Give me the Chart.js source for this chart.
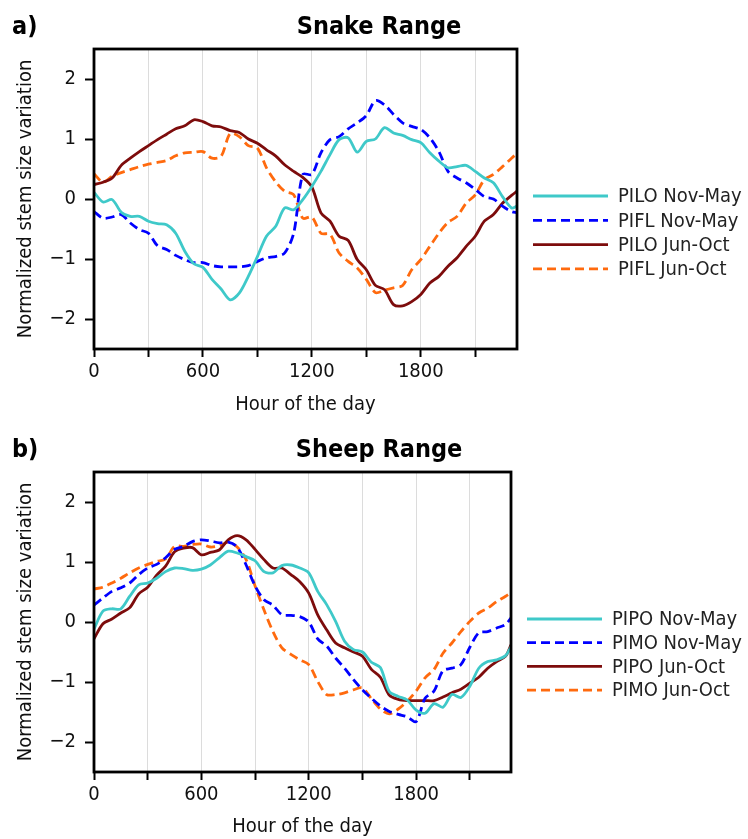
<!DOCTYPE html>
<html><head><meta charset="utf-8">
<script src="https://cdn.jsdelivr.net/npm/chart.js@4.4.0/dist/chart.umd.min.js"></script>
<style>
html,body{margin:0;padding:0;background:#fff;}
#wrap{position:relative;width:748px;height:839px;overflow:hidden;}
canvas{position:absolute;left:0;}
#c1{top:0;}
#c2{top:420px;}
</style></head><body>
<div id="wrap"><canvas id="c1" width="748" height="420"></canvas><canvas id="c2" width="748" height="419"></canvas></div>
<script>
// ---- data ----
const hours = [0,50,100,150,200,250,300,350,400,450,500,550,600,650,700,750,800,850,900,950,1000,1050,1100,1150,1200,1250,1300,1350,1400,1450,1500,1550,1600,1650,1700,1750,1800,1850,1900,1950,2000,2050,2100,2150,2200,2250,2300,2330];

const snakePILO_NovMay = [0.11,-0.05,-0.01,-0.22,-0.29,-0.29,-0.37,-0.41,-0.43,-0.57,
  -0.87,-1.08,-1.14,-1.34,-1.5,-1.68,-1.57,-1.29,-0.96,-0.62,
  -0.46,-0.15,-0.18,-0.01,0.21,0.46,0.74,0.99,1.02,0.78,
  0.96,1.0,1.19,1.1,1.06,0.99,0.94,0.77,0.63,0.52,
  0.54,0.56,0.46,0.35,0.27,0.04,-0.15,-0.12];
const snakePIFL_NovMay = [-0.21,-0.32,-0.3,-0.26,-0.4,-0.51,-0.57,-0.78,-0.84,-0.94,
  -1.01,-1.06,-1.06,-1.11,-1.13,-1.13,-1.13,-1.11,-1.04,-0.98,
  -0.96,-0.9,-0.57,0.41,0.41,0.77,0.99,1.04,1.17,1.27,
  1.39,1.64,1.57,1.41,1.27,1.21,1.16,1.02,0.79,0.46,
  0.35,0.27,0.16,0.04,0.0,-0.12,-0.21,-0.23];
const snakePILO_JunOct = [0.24,0.28,0.35,0.56,0.68,0.79,0.89,0.99,1.08,1.17,
  1.22,1.32,1.29,1.22,1.2,1.14,1.11,1.0,0.93,0.82,
  0.72,0.57,0.46,0.36,0.2,-0.23,-0.37,-0.62,-0.69,-1.01,
  -1.18,-1.44,-1.51,-1.76,-1.78,-1.71,-1.59,-1.4,-1.29,-1.12,
  -0.98,-0.79,-0.62,-0.37,-0.26,-0.07,0.06,0.13];
const snakePIFL_JunOct = [0.42,0.28,0.38,0.44,0.49,0.54,0.58,0.61,0.64,0.72,
  0.77,0.78,0.79,0.68,0.71,1.09,1.04,0.89,0.85,0.52,
  0.29,0.13,0.07,-0.32,-0.3,-0.57,-0.59,-0.9,-1.04,-1.15,
  -1.34,-1.56,-1.52,-1.48,-1.44,-1.18,-1.01,-0.79,-0.57,-0.39,
  -0.29,-0.07,0.07,0.32,0.41,0.54,0.68,0.76];

const sheepPIPO_NovMay = [-0.12,0.18,0.22,0.22,0.43,0.62,0.65,0.73,0.84,0.9,
  0.89,0.86,0.88,0.95,1.07,1.18,1.15,1.09,1.02,0.84,
  0.82,0.94,0.95,0.9,0.82,0.51,0.29,0.01,-0.32,-0.46,
  -0.5,-0.67,-0.76,-1.16,-1.24,-1.3,-1.47,-1.52,-1.36,-1.42,
  -1.21,-1.26,-1.07,-0.77,-0.66,-0.63,-0.56,-0.41];
const sheepPIMO_NovMay = [0.28,0.4,0.51,0.57,0.65,0.79,0.9,0.96,1.07,1.21,
  1.26,1.34,1.37,1.35,1.32,1.33,1.25,0.95,0.6,0.37,
  0.28,0.12,0.11,0.09,0.0,-0.28,-0.4,-0.6,-0.77,-0.96,
  -1.13,-1.27,-1.4,-1.49,-1.54,-1.58,-1.66,-1.27,-1.15,-0.81,
  -0.77,-0.71,-0.42,-0.18,-0.16,-0.1,-0.04,0.07];
const sheepPIPO_JunOct = [-0.28,-0.03,0.05,0.15,0.24,0.47,0.58,0.78,0.93,1.17,
  1.23,1.24,1.12,1.16,1.2,1.37,1.44,1.37,1.21,1.04,
  0.9,0.9,0.79,0.67,0.48,0.12,-0.13,-0.35,-0.43,-0.5,
  -0.57,-0.79,-0.92,-1.22,-1.29,-1.31,-1.31,-1.31,-1.31,-1.25,
  -1.18,-1.12,-1.02,-0.92,-0.77,-0.66,-0.57,-0.38];
const sheepPIMO_JunOct = [0.55,0.58,0.65,0.73,0.82,0.9,0.96,1.01,1.05,1.26,
  1.26,1.29,1.3,1.25,1.27,1.33,1.25,1.04,0.6,0.2,
  -0.16,-0.43,-0.54,-0.63,-0.71,-0.99,-1.21,-1.21,-1.18,-1.13,
  -1.1,-1.28,-1.45,-1.53,-1.45,-1.32,-1.15,-0.93,-0.79,-0.52,
  -0.35,-0.16,0.01,0.15,0.23,0.34,0.43,0.49];

const snakeLabels = ['PILO Nov-May','PIFL Nov-May','PILO Jun-Oct','PIFL Jun-Oct'];
const sheepLabels = ['PIPO Nov-May','PIMO Nov-May','PIPO Jun-Oct','PIMO Jun-Oct'];
const yTickValues = [-2,-1,0,1,2];
const xTickValues = [0,300,600,900,1200,1500,1800,2100];
const xLabelValues = [0,600,1200,1800];
const xMin = 0, xMax = 2330, yMin = -2.5, yMax = 2.5;

// ---- styles ----
const FONT = "'DejaVu Sans Condensed','DejaVu Sans',sans-serif";
const styles = [
  {color:'#3fc9c9', dash:[]},
  {color:'#0000ff', dash:[9,5]},
  {color:'#7d0c0c', dash:[]},
  {color:'#ff6a0e', dash:[9,5]}
];

function pts(vals){ return hours.map((h,i)=>({x:h,y:vals[i]})); }

function makeChart(canvas, cfg){
  const W = canvas.width, H = canvas.height;
  const A = cfg.area;
  const datasets = cfg.series.map((vals,i)=>({
    label: cfg.labels[i],
    data: pts(vals),
    borderColor: styles[i].color,
    borderDash: styles[i].dash,
    borderWidth: 2.8,
    pointRadius: 0,
    tension: 0.3,
    fill: false
  }));
  const overlay = {
    id:'overlay',
    afterDatasetsDraw(chart){
      const ctx = chart.ctx, ca = chart.chartArea;
      ctx.save();
      ctx.strokeStyle = '#000'; ctx.lineWidth = 2.8; ctx.setLineDash([]);
      ctx.strokeRect(ca.left, ca.top, ca.right-ca.left, ca.bottom-ca.top);
      ctx.restore();
    },
    afterDraw(chart){
      const ctx = chart.ctx;
      ctx.save();
      ctx.fillStyle = '#000';
      ctx.textBaseline = 'alphabetic';
      ctx.font = "bold 25px " + FONT;
      ctx.textAlign = 'left';
      ctx.fillText(cfg.panel, 12, cfg.titleY);
      ctx.textAlign = 'center';
      ctx.fillText(cfg.title, cfg.titleX, cfg.titleY);
      // legend
      const L = cfg.legend;
      ctx.font = "20px " + FONT;
      ctx.textAlign = 'left';
      ctx.textBaseline = 'middle';
      cfg.labels.forEach((lab,i)=>{
        const y = L.y0 + i*L.dy;
        ctx.strokeStyle = styles[i].color;
        ctx.lineWidth = 2.8;
        ctx.setLineDash(styles[i].dash);
        ctx.beginPath(); ctx.moveTo(L.x0, y); ctx.lineTo(L.x1, y); ctx.stroke();
        ctx.setLineDash([]);
        ctx.fillStyle = '#222';
        ctx.fillText(lab, L.tx, y+1);
      });
      ctx.restore();
    }
  };
  return new Chart(canvas, {
    type:'line',
    data:{datasets},
    options:{
      responsive:false, animation:false, devicePixelRatio:1,
      layout:{padding:{left:0, top:A.top, right:W-A.right, bottom:0}},
      plugins:{legend:{display:false}, tooltip:{enabled:false}},
      scales:{
        x:{
          type:'linear', min:xMin, max:xMax,
          afterFit(s){ s.height = H - A.bottom; },
          afterBuildTicks(s){ s.ticks = xTickValues.map(v=>({value:v})); },
          grid:{color:'#dcdcdc', lineWidth:1, tickColor:'#000', tickWidth:2, tickLength:8, drawOnChartArea:true},
          border:{display:false},
          ticks:{autoSkip:false, maxRotation:0, padding:3, color:'#111', font:{family:FONT, size:20},
            callback:(v)=> xLabelValues.includes(v) ? String(v) : ''},
          title:{display:true, text:'Hour of the day', color:'#111', font:{family:FONT, size:20}, padding:{top:0,bottom:cfg.xTitlePad}}
        },
        y:{
          type:'linear', min:yMin, max:yMax,
          afterFit(s){ s.width = A.left; },
          afterBuildTicks(s){ s.ticks = yTickValues.map(v=>({value:v})); },
          grid:{drawOnChartArea:false, tickColor:'#000', tickWidth:2, tickLength:9},
          border:{display:false},
          ticks:{padding:9, color:'#111', font:{family:FONT, size:20},
            callback:(v)=> v<0 ? '\u2212'+Math.abs(v) : String(v)},
          title:{display:true, text:'Normalized stem size variation', color:'#111', font:{family:FONT, size:20}, padding:{top:14,bottom:0}}
        }
      }
    },
    plugins:[overlay]
  });
}

makeChart(document.getElementById('c1'), {
  area:{left:94, right:517, top:49, bottom:349},
  series:[snakePILO_NovMay, snakePIFL_NovMay, snakePILO_JunOct, snakePIFL_JunOct],
  labels:snakeLabels, panel:'a)', title:'Snake Range', titleX:379, titleY:34,
  xTitlePad:3,
  legend:{x0:533, x1:608, tx:618, y0:196, dy:24.3}
});
makeChart(document.getElementById('c2'), {
  area:{left:94, right:511, top:52, bottom:352},
  series:[sheepPIPO_NovMay, sheepPIMO_NovMay, sheepPIPO_JunOct, sheepPIMO_JunOct],
  labels:sheepLabels, panel:'b)', title:'Sheep Range', titleX:379, titleY:37,
  xTitlePad:0,
  legend:{x0:527, x1:602, tx:612, y0:199, dy:23.7}
});
</script>
</body></html>
